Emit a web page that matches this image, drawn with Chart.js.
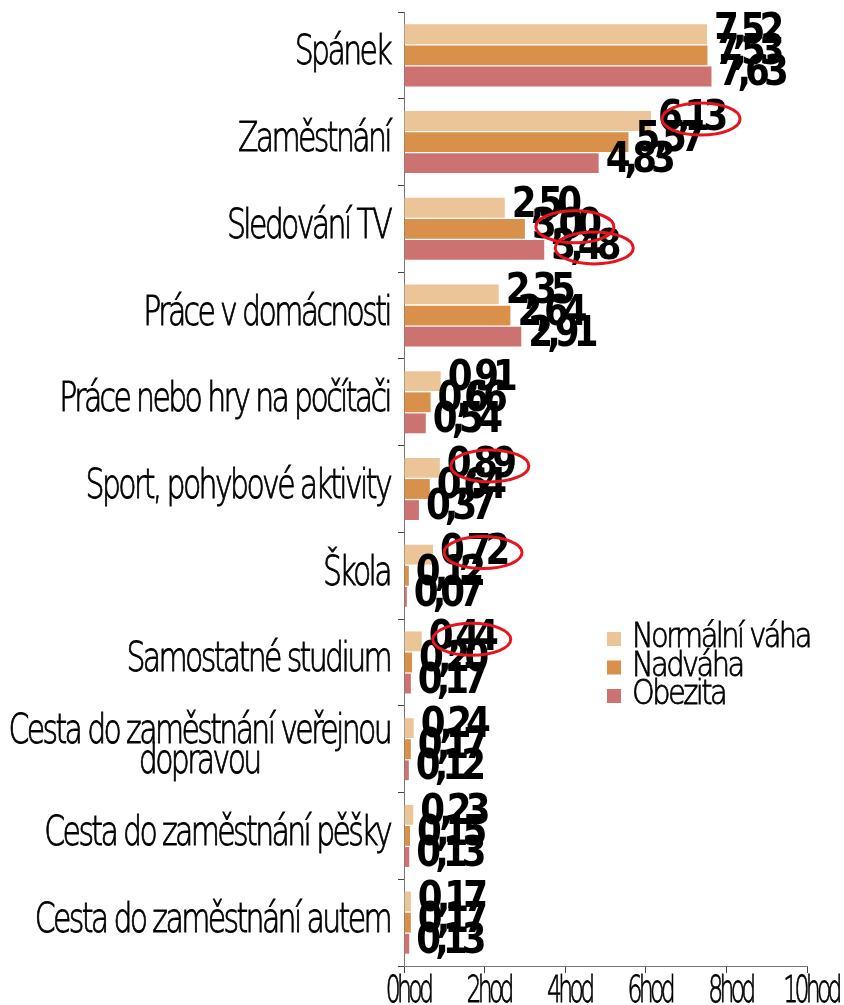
<!DOCTYPE html>
<html lang="cs">
<head>
<meta charset="utf-8">
<title>Čas podle hmotnosti</title>
<script src="https://cdn.jsdelivr.net/npm/chart.js@4.4.1/dist/chart.umd.min.js"></script>
<style>
  html,body{margin:0;padding:0;background:#fff;}
  #wrap{width:844px;height:1005px;position:relative;}
</style>
</head>
<body>
<div id="wrap"><canvas id="c"></canvas></div>
<script>
// time spent per activity (hours/day) by weight group
var categories = [
  "Spánek",
  "Zaměstnání",
  "Sledování TV",
  "Práce v domácnosti",
  "Práce nebo hry na počítači",
  "Sport, pohybové aktivity",
  "Škola",
  "Samostatné studium",
  ["Cesta do zaměstnání veřejnou", "dopravou"],
  "Cesta do zaměstnání pěšky",
  "Cesta do zaměstnání autem"
];
var seriesNames = ["Normální váha", "Nadváha", "Obezita"];
var normalni = [7.52, 6.13, 2.50, 2.35, 0.91, 0.89, 0.72, 0.44, 0.24, 0.23, 0.17];
var nadvaha  = [7.53, 5.57, 3.00, 2.64, 0.66, 0.64, 0.12, 0.20, 0.17, 0.15, 0.17];
var obezita  = [7.63, 4.83, 3.48, 2.91, 0.54, 0.37, 0.07, 0.17, 0.12, 0.13, 0.13];
var xTicks = [0, 2, 4, 6, 8, 10];
var tickSuffix = "hod";
// labels circled in red: [category index, series index]
var circled = [[1,0],[2,1],[2,2],[5,0],[6,0],[7,0]];

var colors = ["#EBC598", "#D9904B", "#CC7371"];
var FONT = '"DejaVu Sans"';

function fmt(v){return v.toFixed(2).replace(".", ",");}
function txt(ctx, s, x, y, o){
  ctx.save();
  ctx.font = (o.weight||"200")+" "+o.size+"px "+FONT;
  ctx.fillStyle = o.color||"#000";
  ctx.textAlign = o.align||"left";
  ctx.textBaseline = "alphabetic";
  ctx.letterSpacing = (o.ls||0)+"px";
  ctx.translate(x, y); ctx.scale(o.sx||1, 1);
  ctx.fillText(s, 0, 0);
  if(o.stroke){ctx.strokeStyle = o.color||"#000"; ctx.lineWidth = o.stroke; ctx.strokeText(s, 0, 0);}
  ctx.restore();
}
function txtWidth(ctx, s, o){
  ctx.save();
  ctx.font = (o.weight||"200")+" "+o.size+"px "+FONT;
  ctx.letterSpacing = (o.ls||0)+"px";
  var w = ctx.measureText(s).width*(o.sx||1);
  ctx.restore();
  return w;
}

var CAT = {size:41, sx:0.73, ls:-3.6, stroke:0.9};
var TICK = {size:38, sx:0.62, ls:-6, align:"center", stroke:0.8};
var VAL = {size:42, sx:0.85, ls:-7, weight:"bold"};
var LEG = {size:34, sx:0.85, ls:-3, stroke:0.8};

var textPlugin = {
  id: "texts",
  afterDraw: function(chart){
    var ctx = chart.ctx, ca = chart.chartArea;
    var xs = chart.scales.x, ys = chart.scales.y;

    // category labels
    categories.forEach(function(lab, i){
      var lines = Array.isArray(lab) ? lab : [lab];
      var cy = ys.getPixelForValue(i);
      var right = ca.left - 14;
      var maxW = 0;
      lines.forEach(function(l){maxW = Math.max(maxW, txtWidth(ctx, l, CAT));});
      lines.forEach(function(l, k){
        var by = cy + 9 - (lines.length-1)*15 + k*30;
        var o = Object.assign({}, CAT, {align: lines.length > 1 ? "center" : "right"});
        txt(ctx, l, lines.length > 1 ? right - maxW/2 : right, by, o);
      });
    });

    // x tick labels
    xTicks.forEach(function(t){
      txt(ctx, t+tickSuffix, xs.getPixelForValue(t) + 4, ca.bottom + 36, TICK);
    });

    // value labels
    chart.data.datasets.forEach(function(ds, d){
      chart.getDatasetMeta(d).data.forEach(function(el, i){
        txt(ctx, fmt(ds.data[i]), el.x + 7, el.y + 9, VAL);
      });
    });

    // legend
    seriesNames.forEach(function(n, k){
      var top = 632 + k*28.5;
      ctx.fillStyle = colors[k];
      ctx.fillRect(607, top, 14, 14);
      txt(ctx, n, 632, top + 15, LEG);
    });

    // red annotation ellipses
    ctx.save();
    ctx.strokeStyle = "#E8141B";
    ctx.lineWidth = 3;
    circled.forEach(function(c){
      var el = chart.getDatasetMeta(c[1]).data[c[0]];
      ctx.beginPath();
      ctx.ellipse(el.x + 50, el.y - 2, 39, 16, 0, 0, Math.PI*2);
      ctx.stroke();
    });
    ctx.restore();
  }
};

new Chart(document.getElementById("c"), {
  type: "bar",
  data: {
    labels: categories,
    datasets: [
      {label: seriesNames[0], data: normalni, backgroundColor: colors[0]},
      {label: seriesNames[1], data: nadvaha,  backgroundColor: colors[1]},
      {label: seriesNames[2], data: obezita,  backgroundColor: colors[2]}
    ]
  },
  options: {
    indexAxis: "y",
    responsive: true, maintainAspectRatio: false,
    animation: false,
    layout: {padding: {top: 12, right: 37, left: 0, bottom: 0}},
    datasets: {bar: {categoryPercentage: 0.73, barPercentage: 0.94, borderWidth: 0}},
    plugins: {legend: {display: false}, tooltip: {enabled: false}},
    scales: {
      x: {
        min: 0, max: 10,
        ticks: {display: false, stepSize: 2},
        grid: {drawOnChartArea: false, drawTicks: true, tickLength: 7, color: "#444"},
        border: {display: true, color: "#777"},
        afterFit: function(s){s.height = 39;}
      },
      y: {
        ticks: {display: false},
        grid: {offset: true, drawOnChartArea: false, drawTicks: true, tickLength: 6, color: "#444"},
        border: {display: true, color: "#777"},
        afterFit: function(s){s.width = 404;}
      }
    }
  },
  plugins: [textPlugin]
});
</script>
</body>
</html>
